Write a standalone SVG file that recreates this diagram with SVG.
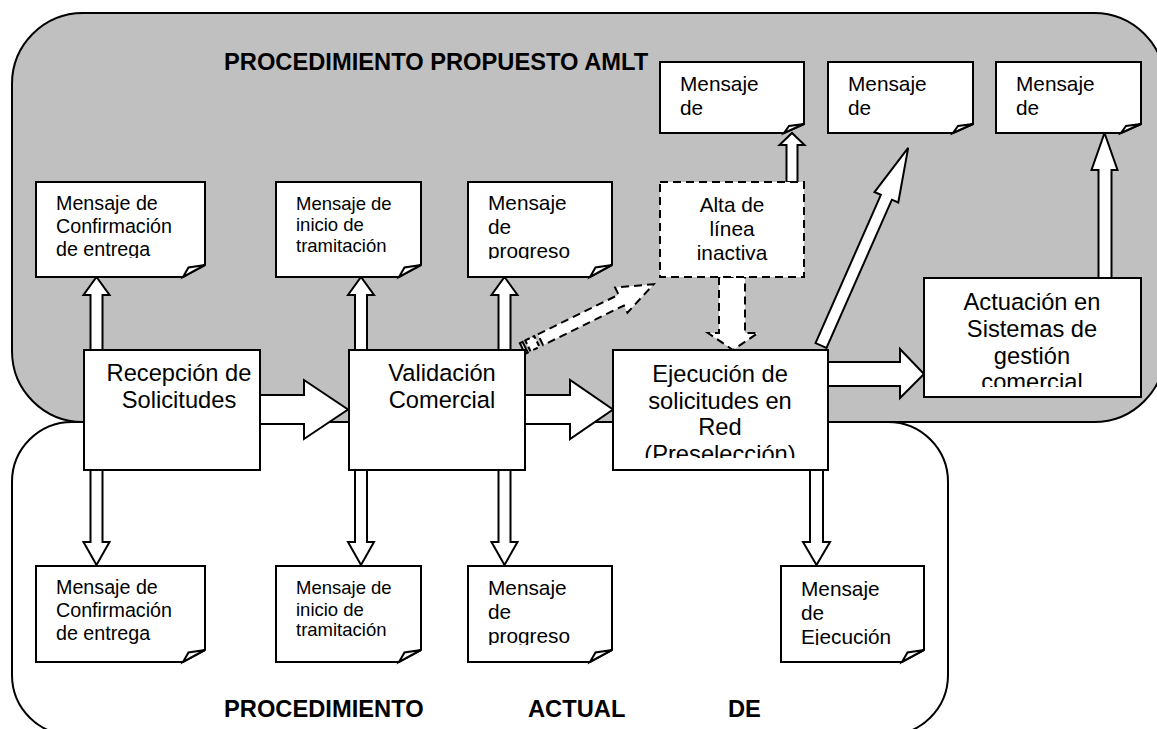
<svg xmlns="http://www.w3.org/2000/svg" width="1157" height="729" viewBox="0 0 1157 729">
<style>
.gray{fill:#c0c0c0;stroke:#000;stroke-width:2}
.wbg{fill:#fff;stroke:#000;stroke-width:2}
.box{fill:#fff;stroke:#000;stroke-width:2;stroke-linejoin:miter}
.dash{fill:#fff;stroke:#000;stroke-width:2;stroke-dasharray:8 5}
.arr{fill:#fff;stroke:#000;stroke-width:2;stroke-linejoin:miter}
.t{font-family:"Liberation Sans",Arial,sans-serif;fill:#000}
.msg{font-size:19.7px}
.msg18{font-size:18.5px}
.msg2{font-size:20.8px}
.mid{text-anchor:middle}
.main{font-size:23.7px;text-anchor:middle}
.title{font-size:23.7px;font-weight:bold}
</style>
<defs>
<clipPath id="c1t"><rect x="36" y="182" width="169" height="76"/></clipPath>
<clipPath id="c2t"><rect x="276" y="182" width="145" height="71"/></clipPath>
<clipPath id="c3t"><rect x="468" y="182" width="144" height="77"/></clipPath>
<clipPath id="c3b"><rect x="468" y="566" width="144" height="79"/></clipPath>
<clipPath id="c4b"><rect x="781" y="566" width="143" height="79"/></clipPath>
<clipPath id="cej"><rect x="613" y="350" width="215" height="108"/></clipPath>
<clipPath id="cact"><rect x="924" y="278" width="217" height="109"/></clipPath>
</defs>

<g id="regions">
<rect class="gray" x="12" y="13" width="1153" height="409" rx="71" ry="71"/>
<rect class="wbg" x="12" y="422" width="936" height="313" rx="60" ry="60"/>
<text class="t title" x="224" y="70">PROCEDIMIENTO PROPUESTO AMLT</text>
<text class="t title" x="224" y="717">PROCEDIMIENTO</text>
<text class="t title" x="528" y="717">ACTUAL</text>
<text class="t title" x="728" y="717">DE</text>
</g>

<g id="connectors">
<!-- horizontal -->
<polygon class="arr" points="260,395 304,395 304,380 348,409.5 304,439 304,424 260,424"/>
<polygon class="arr" points="525,395 570,395 570,380 613,409.5 570,439 570,424 525,424"/>
<polygon class="arr" points="828,362 900,362 900,349 924,374 900,398 900,386 828,386"/>
<!-- up arrows -->
<polygon class="arr" points="90.5,350 90.5,295 83.5,295 96.5,277 109.5,295 102.5,295 102.5,350"/>
<polygon class="arr" points="355,350 355,295 348,295 361,277 374,295 367,295 367,350"/>
<polygon class="arr" points="498.5,350 498.5,295 491.5,295 504.5,277 517.5,295 510.5,295 510.5,350"/>
<polygon class="arr" points="786.5,182 786.5,145 779.5,145 792,133 804.5,145 797.5,145 797.5,182"/>
<polygon class="arr" points="1098.5,278 1098.5,170 1091.5,170 1104.5,133 1117.5,170 1111.5,170 1111.5,278"/>
<!-- down arrows -->
<polygon class="arr" points="90.5,470 90.5,542 83.5,542 96.5,565 109.5,542 102.5,542 102.5,470"/>
<polygon class="arr" points="355,470 355,542 348,542 361,565 374,542 367,542 367,470"/>
<polygon class="arr" points="498.5,470 498.5,542 491.5,542 504.5,565 517.5,542 510.5,542 510.5,470"/>
<polygon class="arr" points="810,470 810,542 803,542 816.5,565 830,542 823,542 823,470"/>
<!-- diagonal solid -->
<polygon class="arr" transform="translate(821,345.5) rotate(-66.2)" points="0,-6 162,-6 162,-13 216,0 162,13 162,6 0,6"/>
<!-- dashed down -->
<polygon class="dash" points="719,277 719,333 708,333 733,350 758,333 745,333 745,277"/>
<!-- dashed striped diagonal -->
<g transform="translate(522.5,348.5) rotate(-26.1)">
<rect class="dash" x="0" y="-6" width="3" height="12" style="stroke-dasharray:none"/>
<rect class="dash" x="6" y="-6" width="10" height="12" style="stroke-dasharray:5 3"/>
<polygon class="dash" points="20,-6 110,-6 110,-14 146,0 110,14 110,6 20,6"/>
</g>
</g>

<g id="msg-confirmacion-top">
<path class="box" d="M36,182 H205 V265 L183,277 H36 Z"/>
<path class="box" d="M183,277 L188.5,267.5 L205,265 Z"/>
<g clip-path="url(#c1t)"><text class="t msg" x="56"><tspan x="56" y="210">Mensaje de</tspan><tspan x="56" y="233">Confirmación</tspan><tspan x="56" y="256">de entrega</tspan></text></g>
</g>
<g id="msg-tramitacion-top">
<path class="box" d="M276,182 H421 V265 L399,277 H276 Z"/>
<path class="box" d="M399,277 L404.5,267.5 L421,265 Z"/>
<g clip-path="url(#c2t)"><text class="t msg18"><tspan x="296" y="210">Mensaje de</tspan><tspan x="296" y="231">inicio de</tspan><tspan x="296" y="252">tramitación</tspan></text></g>
</g>
<g id="msg-progreso-top">
<path class="box" d="M468,182 H612 V265 L590,277 H468 Z"/>
<path class="box" d="M590,277 L595.5,267.5 L612,265 Z"/>
<g clip-path="url(#c3t)"><text class="t msg2"><tspan x="488" y="210">Mensaje</tspan><tspan x="488" y="234">de</tspan><tspan x="488" y="258">progreso</tspan></text></g>
</g>
<g id="alta-linea">
<rect class="dash" x="660" y="182" width="144" height="95"/>
<text class="t msg2 mid"><tspan x="732" y="212">Alta de</tspan><tspan x="732" y="236">línea</tspan><tspan x="732" y="260">inactiva</tspan></text>
</g>
<g id="msg-u1">
<path class="box" d="M660,62 H804 V124 L784,133 H660 Z"/>
<path class="box" d="M784,133 L789,126 L804,124 Z"/>
<text class="t msg2"><tspan x="680" y="91">Mensaje</tspan><tspan x="680" y="115">de</tspan></text>
</g>
<g id="msg-u2">
<path class="box" d="M828,62 H973 V124 L953,133 H828 Z"/>
<path class="box" d="M953,133 L958,126 L973,124 Z"/>
<text class="t msg2"><tspan x="848" y="91">Mensaje</tspan><tspan x="848" y="115">de</tspan></text>
</g>
<g id="msg-u3">
<path class="box" d="M996,62 H1141 V124 L1121,133 H996 Z"/>
<path class="box" d="M1121,133 L1126,126 L1141,124 Z"/>
<text class="t msg2"><tspan x="1016" y="91">Mensaje</tspan><tspan x="1016" y="115">de</tspan></text>
</g>

<g id="recepcion">
<rect class="box" x="84" y="350" width="176" height="120"/>
<text class="t main"><tspan x="179" y="381">Recepción de</tspan><tspan x="179" y="408">Solicitudes</tspan></text>
</g>
<g id="validacion">
<rect class="box" x="349" y="350" width="176" height="120"/>
<text class="t main"><tspan x="442" y="381">Validación</tspan><tspan x="442" y="408">Comercial</tspan></text>
</g>
<g id="ejecucion">
<rect class="box" x="613" y="350" width="215" height="120"/>
<g clip-path="url(#cej)"><text class="t main"><tspan x="720" y="382">Ejecución de</tspan><tspan x="720" y="408.7">solicitudes en</tspan><tspan x="720" y="435.3">Red</tspan><tspan x="720" y="462">(Preselección)</tspan></text></g>
</g>
<g id="actuacion">
<rect class="box" x="924" y="278" width="217" height="119"/>
<g clip-path="url(#cact)"><text class="t main"><tspan x="1032" y="310">Actuación en</tspan><tspan x="1032" y="337">Sistemas de</tspan><tspan x="1032" y="363.5">gestión</tspan><tspan x="1032" y="390">comercial</tspan></text></g>
</g>

<g id="msg-confirmacion-bottom">
<path class="box" d="M36,566 H205 V650 L183,662 H36 Z"/>
<path class="box" d="M183,662 L188.5,652.5 L205,650 Z"/>
<text class="t msg"><tspan x="56" y="594">Mensaje de</tspan><tspan x="56" y="617">Confirmación</tspan><tspan x="56" y="639.5">de entrega</tspan></text>
</g>
<g id="msg-tramitacion-bottom">
<path class="box" d="M276,566 H421 V650 L399,662 H276 Z"/>
<path class="box" d="M399,662 L404.5,652.5 L421,650 Z"/>
<text class="t msg18"><tspan x="296" y="594">Mensaje de</tspan><tspan x="296" y="615.5">inicio de</tspan><tspan x="296" y="636">tramitación</tspan></text>
</g>
<g id="msg-progreso-bottom">
<path class="box" d="M468,566 H612 V650 L590,662 H468 Z"/>
<path class="box" d="M590,662 L595.5,652.5 L612,650 Z"/>
<g clip-path="url(#c3b)"><text class="t msg2"><tspan x="488" y="595">Mensaje</tspan><tspan x="488" y="619">de</tspan><tspan x="488" y="643">progreso</tspan></text></g>
</g>
<g id="msg-ejecucion-bottom">
<path class="box" d="M781,566 H924 V650 L902,662 H781 Z"/>
<path class="box" d="M902,662 L907.5,652.5 L924,650 Z"/>
<g clip-path="url(#c4b)"><text class="t msg2"><tspan x="801" y="596">Mensaje</tspan><tspan x="801" y="620">de</tspan><tspan x="801" y="644">Ejecución</tspan></text></g>
</g>
</svg>
